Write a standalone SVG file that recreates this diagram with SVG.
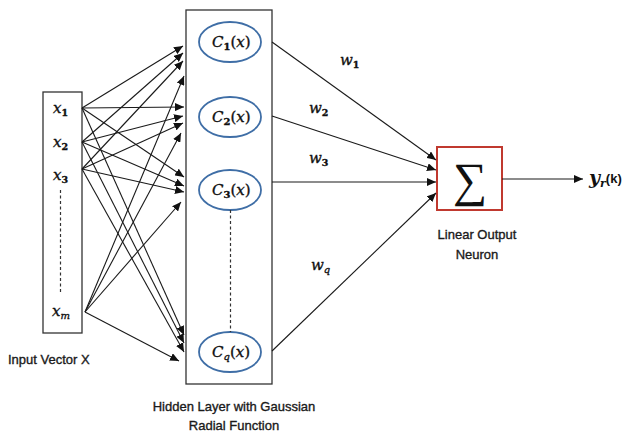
<svg xmlns="http://www.w3.org/2000/svg" width="628" height="433" viewBox="0 0 628 433">
  <defs>
    <marker id="arrow" markerUnits="userSpaceOnUse" markerWidth="10" markerHeight="8" refX="9" refY="4" orient="auto">
      <path d="M0,0 L9,4 L0,8 Z" fill="#111"/>
    </marker>
    <style>
      .box { fill: #fff; stroke: #333; stroke-width: 1.3; }
      .unit { fill: #fff; stroke: #3f6ea6; stroke-width: 1.8; }
      .dash { stroke: #333; stroke-width: 1.2; stroke-dasharray: 3 2.5; fill: none; }
      .link { stroke: #1a1a1a; stroke-width: 1.1; fill: none; marker-end: url(#arrow); }
      .math { font-family: "DejaVu Serif", "Liberation Serif", serif; font-style: italic; fill: #111; stroke: #111; stroke-width: 0.35; }
      .sub { font-family: "DejaVu Serif", "Liberation Serif", serif; font-style: normal; font-weight: bold; }
      .caption { font-family: "Liberation Sans", Arial, sans-serif; font-size: 13px; fill: #1a1a1a; stroke: #1a1a1a; stroke-width: 0.35; }
    </style>
  </defs>

  <!-- input vector -->
  <g id="input">
    <rect class="box" x="43" y="92" width="39" height="241"/>
    <text class="math" font-size="15" x="53" y="113">x<tspan class="sub" font-size="9.5" dy="3">1</tspan></text>
    <text class="math" font-size="15" x="53" y="147">x<tspan class="sub" font-size="9.5" dy="3">2</tspan></text>
    <text class="math" font-size="15" x="53" y="180">x<tspan class="sub" font-size="9.5" dy="3">3</tspan></text>
    <line class="dash" x1="60.5" y1="190" x2="60.5" y2="293"/>
    <text class="math" font-size="15" x="52" y="316">x<tspan font-size="10" dy="3">m</tspan></text>
    <text class="caption" x="8" y="364">Input Vector X</text>
  </g>

  <!-- hidden layer -->
  <g id="hidden">
    <rect class="box" x="186" y="10" width="86" height="374"/>
    <ellipse class="unit" cx="230" cy="42" rx="31" ry="20"/>
    <ellipse class="unit" cx="230" cy="117" rx="31" ry="20"/>
    <ellipse class="unit" cx="230" cy="190" rx="31" ry="20"/>
    <ellipse class="unit" cx="230" cy="352" rx="31" ry="20"/>
    <line class="dash" x1="230.5" y1="210" x2="230.5" y2="332"/>
    <text class="math" font-size="15" x="212" y="47">C<tspan class="sub" font-size="10" dy="3">1</tspan><tspan font-style="normal" dy="-3">(</tspan>x<tspan font-style="normal">)</tspan></text>
    <text class="math" font-size="15" x="212" y="122">C<tspan class="sub" font-size="10" dy="3">2</tspan><tspan font-style="normal" dy="-3">(</tspan>x<tspan font-style="normal">)</tspan></text>
    <text class="math" font-size="15" x="212" y="195">C<tspan class="sub" font-size="10" dy="3">3</tspan><tspan font-style="normal" dy="-3">(</tspan>x<tspan font-style="normal">)</tspan></text>
    <text class="math" font-size="15" x="212" y="357">C<tspan font-size="10" dy="3">q</tspan><tspan font-style="normal" dy="-3">(</tspan>x<tspan font-style="normal">)</tspan></text>
    <text class="caption" x="234" y="411" text-anchor="middle">Hidden Layer with Gaussian</text>
    <text class="caption" x="234" y="430" text-anchor="middle">Radial Function</text>
  </g>

  <!-- output neuron -->
  <g id="output">
    <rect x="437" y="147" width="65" height="63" fill="#fff" stroke="#c0392f" stroke-width="2"/>
    <text x="470" y="196" font-family="'Liberation Serif', 'DejaVu Serif', serif" font-size="48" text-anchor="middle" fill="#111">∑</text>
    <text class="caption" x="477" y="239" text-anchor="middle">Linear Output</text>
    <text class="caption" x="477" y="259" text-anchor="middle">Neuron</text>
  </g>

  <g id="result">
    <text x="589" y="184" font-family="'DejaVu Serif', serif" font-style="italic" font-weight="bold" font-size="19" fill="#111">y<tspan font-size="11" dy="3">r</tspan><tspan font-family="'Liberation Sans', sans-serif" font-style="normal" font-size="13" dy="-4">(k)</tspan></text>
  </g>

  <!-- connectors -->
  <g id="connectors">
    <!-- inputs to hidden units -->
    <line class="link" x1="82" y1="108" x2="183" y2="46"/>
    <line class="link" x1="82" y1="142" x2="183" y2="53"/>
    <line class="link" x1="82" y1="169" x2="183" y2="61"/>
    <line class="link" x1="85" y1="312" x2="184" y2="76"/>

    <line class="link" x1="82" y1="108" x2="184" y2="107"/>
    <line class="link" x1="82" y1="142" x2="183" y2="116"/>
    <line class="link" x1="82" y1="169" x2="183" y2="123"/>
    <line class="link" x1="85" y1="312" x2="181" y2="133"/>

    <line class="link" x1="82" y1="108" x2="184" y2="177"/>
    <line class="link" x1="82" y1="142" x2="184" y2="186"/>
    <line class="link" x1="82" y1="169" x2="184" y2="192"/>
    <line class="link" x1="85" y1="312" x2="181" y2="202"/>

    <line class="link" x1="82" y1="108" x2="184" y2="335"/>
    <line class="link" x1="82" y1="142" x2="184" y2="343"/>
    <line class="link" x1="82" y1="169" x2="184" y2="352"/>
    <line class="link" x1="85" y1="312" x2="179" y2="361"/>

    <!-- hidden units to output -->
    <line class="link" x1="272" y1="42" x2="436" y2="160"/>
    <line class="link" x1="272" y1="116" x2="436" y2="170"/>
    <line class="link" x1="272" y1="182" x2="436" y2="182"/>
    <line class="link" x1="272" y1="351" x2="436" y2="193"/>
    <line class="link" x1="502" y1="179" x2="583" y2="179"/>

    <!-- weight labels -->
    <text class="math" font-size="15" x="340" y="65">w<tspan class="sub" font-size="9.5" dy="3">1</tspan></text>
    <text class="math" font-size="15" x="309" y="113">w<tspan class="sub" font-size="9.5" dy="3">2</tspan></text>
    <text class="math" font-size="15" x="309" y="163">w<tspan class="sub" font-size="9.5" dy="3">3</tspan></text>
    <text class="math" font-size="15" x="311" y="270">w<tspan font-size="10" dy="3">q</tspan></text>
  </g>
</svg>
